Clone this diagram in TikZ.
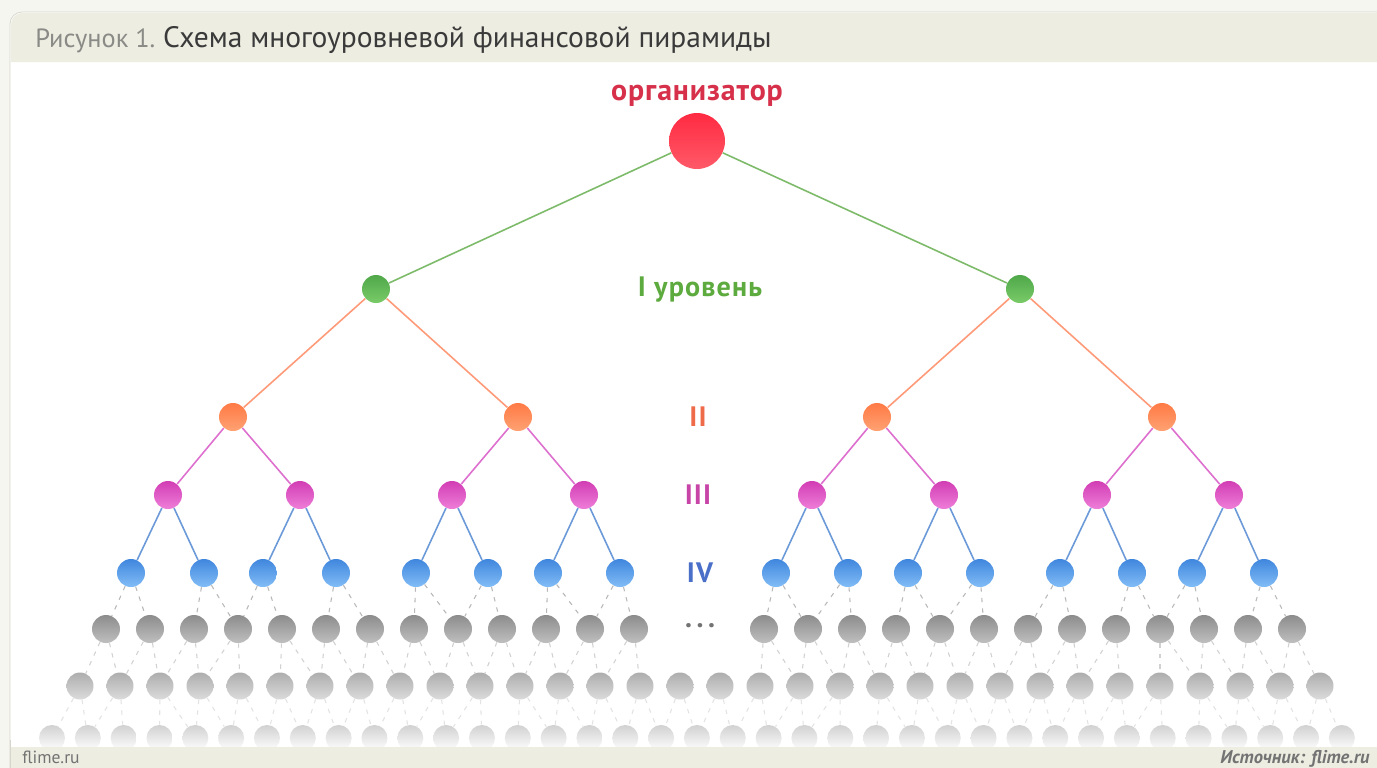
\documentclass[tikz,border=0pt]{standalone}
\usepackage{fontspec}
\setmainfont{PT Sans}
\usetikzlibrary{positioning, backgrounds}

% цвета схемы
\definecolor{bgpaper}{HTML}{F6F6F1}
\definecolor{bandbeige}{HTML}{EDEDE2}
\definecolor{frameline}{HTML}{D6D6CC}
\definecolor{titlegray}{HTML}{8A8A86}
\definecolor{titledark}{HTML}{3A3A3A}
\definecolor{orgtext}{HTML}{D6304A}
\definecolor{greentext}{HTML}{5DAA3F}
\definecolor{orangetext}{HTML}{EE6A48}
\definecolor{magtext}{HTML}{C845A8}
\definecolor{bluetext}{HTML}{4A6FC8}
\definecolor{greenline}{HTML}{7DBB6A}
\definecolor{orangeline}{HTML}{FF9A78}
\definecolor{magline}{HTML}{DD6FCF}
\definecolor{blueline}{HTML}{6C9AD8}
\definecolor{greentop}{HTML}{4FA84A}
\definecolor{greenbot}{HTML}{7ACB68}
\definecolor{magtop}{HTML}{D23DB4}
\definecolor{magbot}{HTML}{EE7ED8}
\definecolor{bluetop}{HTML}{3F86DD}
\definecolor{bluebot}{HTML}{82BDF6}
\definecolor{orgtop}{HTML}{FF2A42}
\definecolor{orgbot}{HTML}{FF5A68}
\definecolor{orntop}{HTML}{FF7A45}
\definecolor{ornbot}{HTML}{FFA273}

\begin{document}
\begin{tikzpicture}[
    x=0.02cm, y=-0.02cm,
    dot/.style={circle, inner sep=0pt, minimum size=0.56cm},
    orgdot/.style={circle, inner sep=0pt, minimum size=1.12cm, top color=orgtop, bottom color=orgbot},
    lvlone/.style={dot, top color=greentop, bottom color=greenbot},
    lvltwo/.style={dot, top color=orntop, bottom color=ornbot},
    lvlthree/.style={dot, top color=magtop, bottom color=magbot},
    lvlfour/.style={dot, top color=bluetop, bottom color=bluebot},
    grayA/.style={dot, top color=black!45, bottom color=black!25},
    grayB/.style={dot, minimum size=0.54cm, top color=black!32, bottom color=black!14},
    grayC/.style={dot, minimum size=0.52cm, top color=black!18, bottom color=white},
    link/.style={line width=0.9pt},
    faint/.style={dash pattern=on 2.5pt off 3.5pt, line width=0.6pt},
    lvllabel/.style={font=\fontsize{16}{18}\selectfont\bfseries\addfontfeatures{LetterSpace=4}}
]

    % --- 1. фон и рамка ---
    \useasboundingbox (0,0) rectangle (1377,768);
    \fill[bandbeige] (1377,13) -- (22,13) to[out=180, in=90] (11,25) -- (11,62) -- (1377,62) -- cycle;

    % заголовок
    \node[anchor=base west, text=titlegray, font=\fontsize{15}{17}\selectfont, inner sep=0pt]
        (fig_no) at (35,47) {Рисунок 1.};
    \node[text=titledark, font=\fontsize{16.8}{20}\selectfont, inner sep=0pt, right=7 of fig_no.base east, anchor=base west]
        (fig_title) {Схема многоуровневой финансовой пирамиды};

    % --- 2. организатор и уровни I-IV ---
    \node[orgdot] (org) at (697,141) {};
    \node[text=orgtext, font=\fontsize{17}{19}\selectfont\bfseries\addfontfeatures{LetterSpace=3}] (lbl_org) at (697,96) {организатор};

    \foreach \x [count=\i] in {376,1020}
        \node[lvlone] (lvlA-\i) at (\x,289) {};
    \foreach \x [count=\i] in {233,518,877,1162}
        \node[lvltwo] (lvlB-\i) at (\x,417) {};
    \foreach \x [count=\i] in {168,300,452,584,812,944,1097,1229}
        \node[lvlthree] (lvlC-\i) at (\x,495) {};
    \foreach \x [count=\i] in {131,204,263,336,416,488,548,620,776,848,908,980,1060,1132,1192,1264}
        \node[lvlfour] (lvlD-\i) at (\x,573) {};

    % подписи уровней
    \node[lvllabel, text=greentext] (lbl_one) at (700,290) {I уровень};
    \node[lvllabel, text=orangetext] (lbl_two) at (698,417) {II};
    \node[lvllabel, text=magtext] (lbl_three) at (698,495) {III};
    \node[lvllabel, text=bluetext] (lbl_four) at (700,573) {IV};
    \node[text=black!55, font=\fontsize{16}{18}\selectfont\bfseries\addfontfeatures{LetterSpace=15}] (lbl_dots) at (700,626) {...};

    % --- 3. серые ряды (дальние уровни) ---
    \foreach \i [evaluate=\i as \xx using 106+44*\i] in {0,...,12}
        \node[grayA] (grA-\i) at (\xx,629) {};
    \foreach \i [evaluate=\i as \xx using 764+44*\i, evaluate=\i as \k using int(\i+13)] in {0,...,12}
        \node[grayA] (grA-\k) at (\xx,629) {};
    \foreach \i [evaluate=\i as \xx using 80+40*\i] in {0,...,31}
        \node[grayB] (grB-\i) at (\xx,686) {};
    \foreach \i [evaluate=\i as \xx using 52+35.83*\i] in {0,...,36}
        \node[grayC] (grC-\i) at (\xx,738) {};

    % --- 4. связи (под кружками) ---
    \begin{scope}[on background layer]
        \fill[bgpaper] (0,0) rectangle (1377,768);
        \draw[frameline, fill=white] (1377,12) -- (22,12) to[out=180, in=90] (10,24) -- (10,768) -- (1377,768);

        \foreach \i in {1,2}
            \draw[link, greenline] (org) -- (lvlA-\i);
        \foreach \i [evaluate=\i as \p using int((\i+1)/2)] in {1,...,4}
            \draw[link, orangeline] (lvlA-\p) -- (lvlB-\i);
        \foreach \i [evaluate=\i as \p using int((\i+1)/2)] in {1,...,8}
            \draw[link, magline] (lvlB-\p) -- (lvlC-\i);
        \foreach \i [evaluate=\i as \p using int((\i+1)/2)] in {1,...,16}
            \draw[link, blueline] (lvlC-\p) -- (lvlD-\i);

        % пунктир: IV -> серый ряд A
        \foreach \x [count=\i] in {131,204,263,336,416,488,548,620,776,848,908,980,1060,1132,1192,1264} {
            \ifnum\x<700
                \pgfmathtruncatemacro{\lo}{floor((\x-106)/44)}
            \else
                \pgfmathtruncatemacro{\lo}{13+floor((\x-764)/44)}
            \fi
            \pgfmathtruncatemacro{\hi}{\lo+1}
            \draw[faint, black!28] (lvlD-\i) -- (grA-\lo);
            \draw[faint, black!28] (lvlD-\i) -- (grA-\hi);
        }
        % ряд A -> ряд B
        \foreach \i in {0,...,25} {
            \pgfmathsetmacro{\xx}{\i<13 ? 106+44*\i : 764+44*(\i-13)}
            \pgfmathtruncatemacro{\lo}{floor((\xx-80)/40)}
            \pgfmathtruncatemacro{\hi}{\lo+1}
            \draw[faint, black!18] (grA-\i) -- (grB-\lo);
            \draw[faint, black!18] (grA-\i) -- (grB-\hi);
        }
        % ряд B -> ряд C
        \foreach \i in {0,...,31} {
            \pgfmathtruncatemacro{\lo}{floor((80+40*\i-52)/35.83)}
            \pgfmathtruncatemacro{\hi}{\lo+1}
            \draw[faint, black!11] (grB-\i) -- (grC-\lo);
            \draw[faint, black!11] (grB-\i) -- (grC-\hi);
        }
    \end{scope}

    % --- 5. нижняя полоса с источником ---
    \fill[bandbeige] (11,747) rectangle (1377,768);
    \draw[frameline] (10,740) -- (10,768);
    \node[anchor=base west, text=black!55, font=\fontsize{10}{12}\selectfont, inner sep=0pt] (src_left) at (22,763) {flime.ru};
    \node[anchor=base east, text=black!55, font=\fontsize{10.5}{12}\selectfont\bfseries\itshape, inner sep=0pt] (src_right) at (1370,763) {Источник: flime.ru};

\end{tikzpicture}
\end{document}
